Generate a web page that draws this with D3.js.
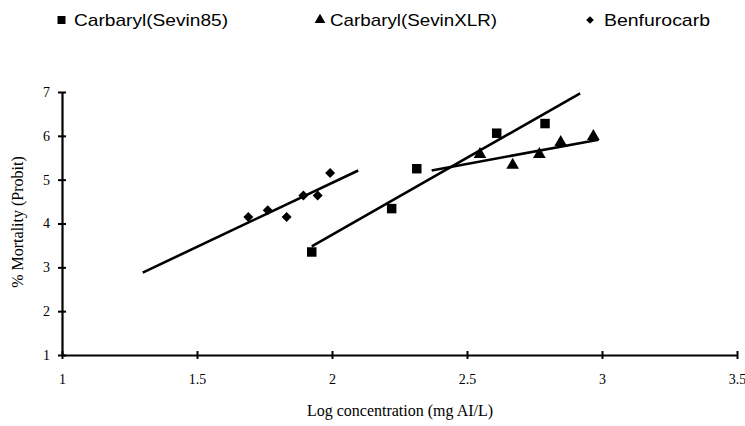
<!DOCTYPE html>
<html>
<head>
<meta charset="utf-8">
<script src="https://cdn.jsdelivr.net/npm/d3@7"></script>
<style>
  body { margin: 0; background: #fff; }
  svg { display: block; }
</style>
</head>
<body>
<svg width="745" height="426"></svg>
<script>
// series names (legend order)
var seriesNames = ["Carbaryl(Sevin85)", "Carbaryl(SevinXLR)", "Benfurocarb"];

// points: [log conc, probit]
var sevin85 = [[1.925, 3.35], [2.221, 4.34], [2.314, 5.25], [2.61, 6.06], [2.789, 6.28]];
var sevinXLR = [[2.548, 5.58], [2.669, 5.33], [2.768, 5.58], [2.847, 5.85], [2.968, 5.99]];
var benfuro = [[1.69, 4.15], [1.762, 4.30], [1.832, 4.15], [1.894, 4.64], [1.947, 4.64], [1.993, 5.15]];

// fitted lines, endpoints
var fit85 = [[1.925, 3.48], [2.919, 6.97]];
var fitXLR = [[2.369, 5.21], [2.987, 5.91]];
var fitBen = [[1.299, 2.88], [2.097, 5.21]];

var xTicks = [1, 1.5, 2, 2.5, 3, 3.5];
var yTicks = [1, 2, 3, 4, 5, 6, 7];

var svg = d3.select("svg");

var x = d3.scaleLinear().domain([1, 3.5]).range([62, 737]);
var y = d3.scaleLinear().domain([1, 7]).range([355, 92]);

// axes
var xAxis = svg.append("g")
    .attr("transform", "translate(0," + y(1) + ")")
    .call(d3.axisBottom(x).tickValues(xTicks).tickFormat(d3.format("")).tickSize(4).tickSizeOuter(0).tickPadding(15));
xAxis.select(".domain").attr("stroke-width", 2.2);
xAxis.selectAll(".tick line").attr("y1", -4).attr("y2", 4).attr("stroke-width", 2);
xAxis.selectAll("text").attr("font-family", "Liberation Serif").attr("font-size", 14).attr("fill", "#000");

var yAxis = svg.append("g")
    .attr("transform", "translate(" + x(1) + ",0)")
    .call(d3.axisLeft(y).tickValues(yTicks).tickFormat(d3.format("d")).tickSize(4).tickSizeOuter(0).tickPadding(8));
yAxis.select(".domain").attr("stroke-width", 2.2);
yAxis.selectAll(".tick line").attr("x1", -4).attr("x2", 4).attr("stroke-width", 2);
yAxis.selectAll("text").attr("font-family", "Liberation Serif").attr("font-size", 14).attr("fill", "#000");

// axis titles
svg.append("text")
    .attr("x", 400).attr("y", 416)
    .attr("text-anchor", "middle")
    .attr("font-family", "Liberation Serif").attr("font-size", 16)
    .text("Log concentration (mg AI/L)");

svg.append("text")
    .attr("transform", "translate(23,222) rotate(-90)")
    .attr("text-anchor", "middle")
    .attr("font-family", "Liberation Serif").attr("font-size", 16)
    .text("% Mortality (Probit)");

// fit lines
var line = d3.line().x(d => x(d[0])).y(d => y(d[1]));
[fit85, fitXLR, fitBen].forEach(function (f) {
    svg.append("path")
        .attr("d", line(f))
        .attr("fill", "none")
        .attr("stroke", "#000")
        .attr("stroke-width", 2.6);
});

// markers
var symSquare = d3.symbol().type(d3.symbolSquare).size(90);
var symTri = d3.symbol().type(d3.symbolTriangle).size(70);
var symDiamond = d3.symbol().type(d3.symbolSquare).size(50);

svg.append("g").selectAll("path")
    .data(sevin85)
    .enter().append("path")
    .attr("d", symSquare)
    .attr("transform", d => "translate(" + x(d[0]) + "," + y(d[1]) + ")");

svg.append("g").selectAll("path")
    .data(sevinXLR)
    .enter().append("path")
    .attr("d", symTri)
    .attr("transform", d => "translate(" + x(d[0]) + "," + y(d[1]) + ")");

svg.append("g").selectAll("path")
    .data(benfuro)
    .enter().append("path")
    .attr("d", symDiamond)
    .attr("transform", d => "translate(" + x(d[0]) + "," + y(d[1]) + ") rotate(45)");

// legend
var legX = [61.5, 320, 590];
var legTextDx = [12.5, 10, 14];
var legTextW = [154, 167, 106];
var legSym = [
    d3.symbol().type(d3.symbolSquare).size(64),
    d3.symbol().type(d3.symbolTriangle).size(50),
    d3.symbol().type(d3.symbolSquare).size(30)
];
var leg = svg.append("g").selectAll("g")
    .data(seriesNames)
    .enter().append("g")
    .attr("transform", (d, i) => "translate(" + legX[i] + ",20)");
leg.append("path")
    .attr("d", (d, i) => legSym[i]())
    .attr("transform", (d, i) => i == 2 ? "rotate(45)" : null);
leg.append("text")
    .attr("x", (d, i) => legTextDx[i]).attr("y", 6)
    .attr("font-family", "Liberation Sans").attr("font-size", 17)
    .attr("textLength", (d, i) => legTextW[i])
    .attr("lengthAdjust", "spacingAndGlyphs")
    .text(d => d);
</script>
</body>
</html>
